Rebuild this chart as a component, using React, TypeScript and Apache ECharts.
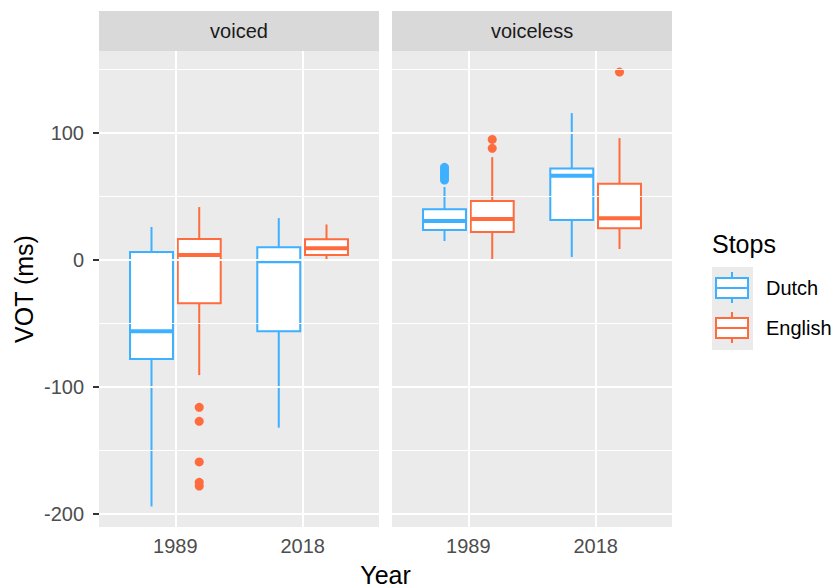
import React, { useEffect, useRef } from 'react';
import * as echarts from 'echarts';

const years = ['1989', '2018'];
const facets = ['voiced', 'voiceless'];
const groups = ['Dutch', 'English'];
const colors = ['#3DB0FF', '#FF6B3D'];
const yTicks = [-200, -100, 0, 100];
const yMinor = [-150, -50, 50, 150];

// [min, Q1, median, Q3, max] for 1989, 2018
const voicedDutch = [[-194, -78, -56, 6.3, 26], [-132, -56, -1, 10, 33]];
const voicedEnglish = [[-90.6, -34, 4, 16.5, 41.7], [0.5, 3.9, 9.2, 16.3, 28]];
const voicelessDutch = [[15, 23.6, 30.7, 40, 57.5], [2.4, 31.5, 66.4, 72, 115.7]];
const voicelessEnglish = [[0.8, 22, 32.3, 46.5, 81], [8.7, 25, 33, 60, 96]];

// outliers for 1989, 2018
const voicedDutchOut = [[], []];
const voicedEnglishOut = [[-116, -127, -159, -175, -178], []];
const voicelessDutchOut = [[63, 65, 67, 69, 71, 73], []];
const voicelessEnglishOut = [[88, 95], [148]];

const FONT = '"Liberation Sans", Arial, Helvetica, sans-serif';
const DODGE = 0.1875;
const BOX_W = 0.3375;
const offsets = [-DODGE, DODGE];

const boxData = [
  [voicedDutch, voicedEnglish],
  [voicelessDutch, voicelessEnglish],
];
const outData = [
  [voicedDutchOut, voicedEnglishOut],
  [voicelessDutchOut, voicelessEnglishOut],
];

const GRIDS = [
  { left: 99, top: 51, width: 280, height: 476 },
  { left: 392, top: 51, width: 280, height: 476 },
];

function makeRender(color: string, offset: number) {
  return (params: any, api: any) => {
    const x = api.value(0) + offset;
    const pMin = api.coord([x, api.value(1)]);
    const pQ1 = api.coord([x, api.value(2)]);
    const pMed = api.coord([x, api.value(3)]);
    const pQ3 = api.coord([x, api.value(4)]);
    const pMax = api.coord([x, api.value(5)]);
    const w = api.size([BOX_W, 0])[0];
    const cx = pMin[0];
    const left = cx - w / 2;
    return {
      type: 'group',
      children: [
        { type: 'line', shape: { x1: cx, y1: pMax[1], x2: cx, y2: pQ3[1] }, style: { stroke: color, lineWidth: 2 } },
        { type: 'line', shape: { x1: cx, y1: pQ1[1], x2: cx, y2: pMin[1] }, style: { stroke: color, lineWidth: 2 } },
        { type: 'rect', shape: { x: left, y: pQ3[1], width: w, height: pQ1[1] - pQ3[1] }, style: { fill: '#ffffff', stroke: color, lineWidth: 2 } },
        { type: 'line', shape: { x1: left, y1: pMed[1], x2: left + w, y2: pMed[1] }, style: { stroke: color, lineWidth: 4 } },
      ],
    };
  };
}

export default function App() {
  const ref = useRef<HTMLDivElement>(null);
  useEffect(() => {
    if (!ref.current) return;
    const chart = echarts.init(ref.current, null, { renderer: 'svg' });

    const xAxis = GRIDS.map((_, gi) => ({
      gridIndex: gi,
      type: 'value',
      min: 0.4,
      max: 2.6,
      axisLine: { show: false },
      splitLine: { show: false },
      axisTick: { show: true, customValues: [1, 2], length: 6, lineStyle: { color: '#333333', width: 2 } },
      axisLabel: {
        show: true,
        customValues: [1, 2],
        margin: 9,
        fontSize: 20,
        color: '#4D4D4D',
        fontFamily: FONT,
        formatter: (v: number) => years[Math.round(v) - 1] ?? '',
      },
    }));

    const yAxis = GRIDS.map((_, gi) => ({
      gridIndex: gi,
      type: 'value',
      min: -210.2,
      max: 164.6,
      axisLine: { show: false },
      splitLine: { show: false },
      axisTick: gi === 0
        ? { show: true, customValues: yTicks, length: 6, lineStyle: { color: '#333333', width: 2 } }
        : { show: false },
      axisLabel: gi === 0
        ? { show: true, customValues: yTicks, margin: 15, fontSize: 20, color: '#4D4D4D', fontFamily: FONT }
        : { show: false },
      name: gi === 0 ? 'VOT (ms)' : '',
      nameLocation: 'middle',
      nameGap: 63,
      nameRotate: 90,
      nameTextStyle: { fontSize: 25, color: '#000000', fontFamily: FONT },
    }));

    const series: any[] = [];
    GRIDS.forEach((_, gi) => {
      const lines: any[] = [];
      yTicks.forEach((v) => lines.push({ yAxis: v, lineStyle: { color: '#ffffff', width: 2, type: 'solid' } }));
      yMinor.forEach((v) => lines.push({ yAxis: v, lineStyle: { color: '#ffffff', width: 1, type: 'solid' } }));
      years.forEach((_, i) => lines.push({ xAxis: i + 1, lineStyle: { color: '#ffffff', width: 2, type: 'solid' } }));
      series.push({
        type: 'line',
        xAxisIndex: gi,
        yAxisIndex: gi,
        data: [],
        silent: true,
        z: 1,
        markLine: {
          silent: true,
          symbol: ['none', 'none'],
          label: { show: false },
          animation: false,
          data: lines,
        },
      });
      groups.forEach((g, k) => {
        series.push({
          type: 'custom',
          name: g,
          xAxisIndex: gi,
          yAxisIndex: gi,
          z: 3,
          silent: true,
          renderItem: makeRender(colors[k], offsets[k]),
          encode: { x: 0, y: [1, 2, 3, 4, 5] },
          data: boxData[gi][k].map((d, i) => [i + 1, ...d]),
        });
        series.push({
          type: 'scatter',
          name: g,
          xAxisIndex: gi,
          yAxisIndex: gi,
          z: 4,
          silent: true,
          symbol: 'circle',
          symbolSize: 9,
          itemStyle: { color: colors[k], opacity: 1 },
          data: outData[gi][k].flatMap((vals, i) => vals.map((v) => [i + 1 + offsets[k], v])),
        });
      });
    });

    const graphic: any[] = [];
    GRIDS.forEach((g, gi) => {
      graphic.push({
        type: 'rect',
        shape: { x: g.left, y: 11, width: g.width, height: 40 },
        style: { fill: '#D9D9D9' },
        silent: true,
      });
      graphic.push({
        type: 'text',
        x: g.left + g.width / 2,
        y: 31,
        style: { text: facets[gi], fontSize: 20, fill: '#1A1A1A', fontFamily: FONT, textAlign: 'center', textVerticalAlign: 'middle' },
        silent: true,
      });
    });
    graphic.push({
      type: 'text',
      x: (GRIDS[0].left + GRIDS[1].left + GRIDS[1].width) / 2,
      y: 575,
      style: { text: 'Year', fontSize: 25, fill: '#000000', fontFamily: FONT, textAlign: 'center', textVerticalAlign: 'middle' },
      silent: true,
    });
    // legend
    graphic.push({
      type: 'text',
      x: 712,
      y: 244,
      style: { text: 'Stops', fontSize: 25, fill: '#000000', fontFamily: FONT, textAlign: 'left', textVerticalAlign: 'middle' },
      silent: true,
    });
    graphic.push({ type: 'rect', shape: { x: 712, y: 267, width: 41, height: 83 }, style: { fill: '#EBEBEB' }, silent: true });
    groups.forEach((g, k) => {
      const cy = 288 + k * 40;
      const cx = 732;
      graphic.push({ type: 'line', shape: { x1: cx, y1: cy - 16, x2: cx, y2: cy + 15 }, style: { stroke: colors[k], lineWidth: 2 }, silent: true });
      graphic.push({ type: 'rect', shape: { x: cx - 16, y: cy - 10, width: 32, height: 20 }, style: { fill: '#ffffff', stroke: colors[k], lineWidth: 2 }, silent: true });
      graphic.push({ type: 'line', shape: { x1: cx - 16, y1: cy, x2: cx + 16, y2: cy }, style: { stroke: colors[k], lineWidth: 2 }, silent: true });
      graphic.push({
        type: 'text',
        x: 766,
        y: cy,
        style: { text: g, fontSize: 20, fill: '#000000', fontFamily: FONT, textAlign: 'left', textVerticalAlign: 'middle' },
        silent: true,
      });
    });

    chart.setOption({
      animation: false,
      backgroundColor: '#ffffff',
      textStyle: { fontFamily: FONT },
      grid: GRIDS.map((g) => ({ ...g, show: true, backgroundColor: '#EBEBEB', borderWidth: 0, containLabel: false })),
      xAxis,
      yAxis,
      series,
      graphic,
    });
    return () => chart.dispose();
  }, []);
  return <div ref={ref} style={{ position: 'fixed', left: 0, top: 0, width: 835, height: 588 }} />;
}
